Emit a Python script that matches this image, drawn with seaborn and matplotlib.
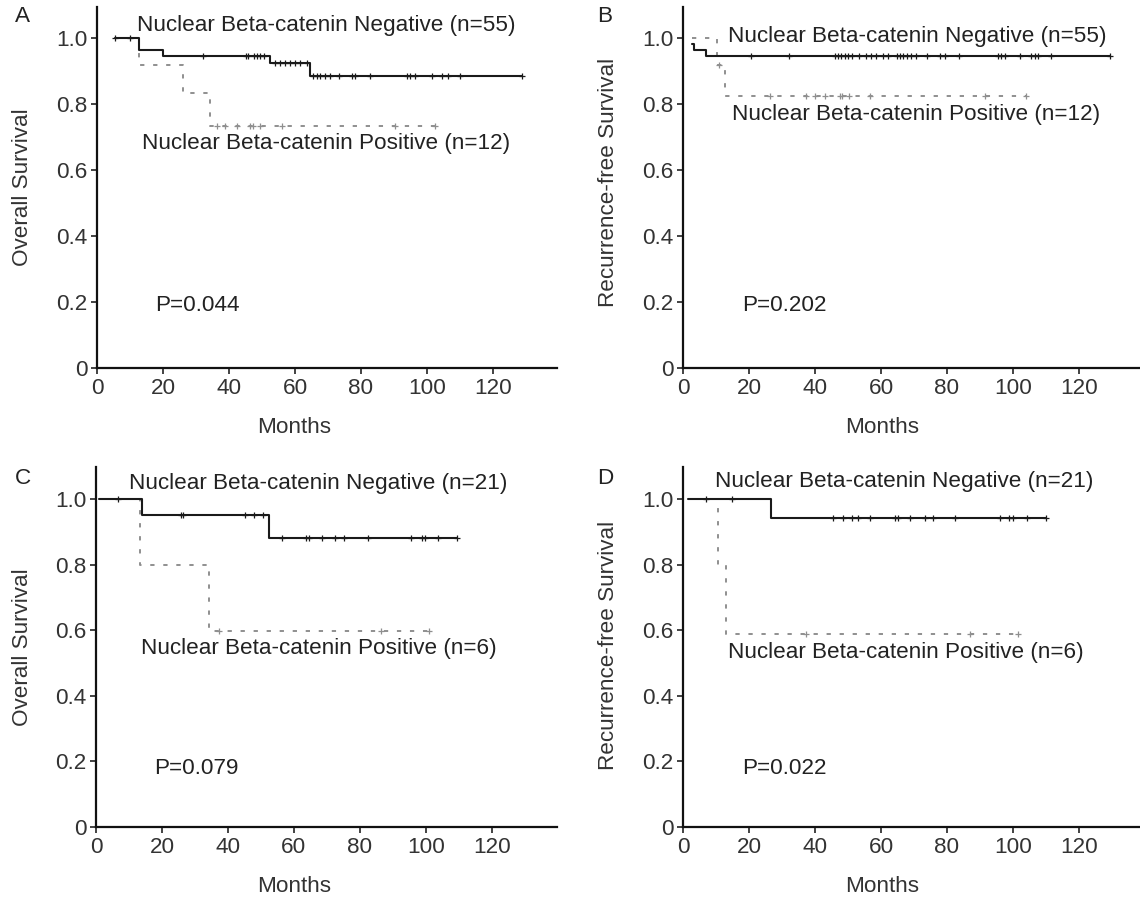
import numpy as np
import matplotlib
matplotlib.use("Agg")
import matplotlib.pyplot as plt
import seaborn as sns

# ---------------- data ----------------
# Panel A: overall survival, cohort 1
a_neg_times = [5.5, 12.8, 20.0, 52.5, 64.4, 128.8]
a_neg_surv = [1.0, 0.964, 0.945, 0.923, 0.885, 0.885]
a_neg_censor = [5.5, 10.1, 32.1, 45.0, 45.9, 47.5, 48.5, 49.5, 50.5, 54.0, 55.5, 57.0,
                58.6, 60.1, 61.6, 63.6, 65.6, 66.7, 67.7, 69.2, 70.7, 73.2, 77.3, 78.3,
                82.8, 93.9, 94.9, 96.5, 101.5, 104.5, 106.5, 110.0, 128.8]
a_pos_times = [5.5, 12.8, 26.0, 34.3, 102.5]
a_pos_surv = [1.0, 0.917, 0.833, 0.733, 0.733]
a_pos_censor = [36.4, 38.9, 42.4, 46.4, 47.3, 49.5, 56.1, 90.4, 102.5]

# Panel B: recurrence-free survival, cohort 1
b_neg_times = [2.8, 3.2, 7.1, 129.3]
b_neg_surv = [0.982, 0.964, 0.945, 0.945]
b_neg_censor = [20.7, 32.1, 46.0, 47.0, 48.0, 49.0, 50.0, 51.3, 53.3, 55.6, 57.1, 58.6,
                60.6, 62.1, 64.7, 65.7, 66.7, 67.9, 69.2, 70.7, 73.8, 77.8, 79.3, 83.6,
                95.5, 96.5, 97.5, 102.0, 105.6, 106.6, 107.6, 111.6, 129.3]
b_pos_times = [2.8, 10.4, 12.6, 103.9]
b_pos_surv = [1.0, 0.917, 0.825, 0.825]
b_pos_censor = [11.0, 26.3, 37.4, 39.9, 42.9, 47.5, 48.3, 50.3, 56.6, 91.4, 103.9]

# Panel C: overall survival, cohort 2
c_neg_times = [1.0, 13.9, 52.5, 109.3]
c_neg_surv = [1.0, 0.952, 0.881, 0.881]
c_neg_censor = [6.8, 25.8, 26.5, 45.2, 48.0, 50.7, 56.4, 63.6, 64.4, 68.4, 72.5, 75.2,
                82.3, 95.5, 98.7, 99.8, 103.5, 109.3]
c_pos_times = [1.0, 13.3, 34.3, 101.0]
c_pos_surv = [1.0, 0.8, 0.597, 0.597]
c_pos_censor = [37.4, 86.4, 101.0]

# Panel D: recurrence-free survival, cohort 2
d_neg_times = [1.5, 26.8, 109.9]
d_neg_surv = [1.0, 0.944, 0.944]
d_neg_censor = [7.1, 14.7, 45.5, 48.5, 51.3, 53.0, 56.8, 64.2, 65.0, 68.9, 73.2, 75.9,
                82.5, 96.0, 98.8, 100.0, 104.1, 109.9]
d_pos_times = [1.5, 10.6, 12.9, 101.5]
d_pos_surv = [1.0, 0.8, 0.59, 0.59]
d_pos_censor = [37.4, 86.9, 101.5]

panel_letters = ["A", "B", "C", "D"]
y_labels = ["Overall Survival", "Recurrence-free Survival",
            "Overall Survival", "Recurrence-free Survival"]
neg_labels = ["Nuclear Beta-catenin Negative (n=55)", "Nuclear Beta-catenin Negative (n=55)",
              "Nuclear Beta-catenin Negative (n=21)", "Nuclear Beta-catenin Negative (n=21)"]
pos_labels = ["Nuclear Beta-catenin Positive (n=12)", "Nuclear Beta-catenin Positive (n=12)",
              "Nuclear Beta-catenin Positive (n=6)", "Nuclear Beta-catenin Positive (n=6)"]
p_values = ["P=0.044", "P=0.202", "P=0.079", "P=0.022"]
x_ticks = [0, 20, 40, 60, 80, 100, 120]
y_ticks = [0, 0.2, 0.4, 0.6, 0.8, 1.0]
y_tick_labels = ["0", "0.2", "0.4", "0.6", "0.8", "1.0"]
x_label = "Months"

# ---------------- style ----------------
sns.set_theme(style="ticks")
plt.rcParams["font.family"] = ["Liberation Sans", "DejaVu Sans"]
TXT = "#222222"
FS = 16.2

W, H = 1140, 900
fig = plt.figure(figsize=(W / 100, H / 100), dpi=100)
fig.patch.set_facecolor("white")

# axes boxes in pixels: left, right, top, bottom ; ylim top
boxes = [(97, 557, 7, 368, 1.094), (683, 1140, 7, 368, 1.094),
         (96, 557, 467, 827, 1.099), (683, 1140, 467, 827, 1.099)]

data = [
    (a_neg_times, a_neg_surv, a_neg_censor, a_pos_times, a_pos_surv, a_pos_censor),
    (b_neg_times, b_neg_surv, b_neg_censor, b_pos_times, b_pos_surv, b_pos_censor),
    (c_neg_times, c_neg_surv, c_neg_censor, c_pos_times, c_pos_surv, c_pos_censor),
    (d_neg_times, d_neg_surv, d_neg_censor, d_pos_times, d_pos_surv, d_pos_censor),
]

# text anchors (data coords): neg label, pos label, p value
text_pos = [
    ((12.0, 1.039), (13.6, 0.681), (17.7, 0.19)),
    ((13.6, 1.004), (14.7, 0.767), (17.8, 0.19)),
    ((10.1, 1.049), (13.7, 0.546), (17.7, 0.18)),
    ((9.6, 1.054), (13.5, 0.534), (17.8, 0.18)),
]
letter_px = [(22, 17), (605, 16), (23, 478), (605, 478)]
ylabel_px = [(23, 187), (609, 182), (23, 647), (609, 645)]
xlabel_px = [(294, 428), (882, 428), (294, 887), (882, 887)]


def step_value(times, surv, t):
    idx = np.searchsorted(np.asarray(times), np.asarray(t), side="right") - 1
    idx = np.clip(idx, 0, len(surv) - 1)
    return np.asarray(surv)[idx]


def draw_curve(ax, times, surv, censor, color, ls, lw, z, ms):
    sns.lineplot(x=times, y=surv, ax=ax, drawstyle="steps-post", estimator=None,
                 sort=False, color=color, linestyle=ls, linewidth=lw, zorder=z)
    cy = step_value(times, surv, censor)
    sns.scatterplot(x=censor, y=cy, ax=ax, marker="+", s=ms, color=color,
                    linewidth=0.9, zorder=z + 0.5)


for i, (l, r, t, b, ytop) in enumerate(boxes):
    ax = fig.add_axes([l / W, 1 - b / H, (r - l) / W, (b - t) / H])
    ax.set_facecolor("white")
    nt, ns, nc, pt, ps, pc = data[i]
    draw_curve(ax, pt, ps, pc, "#8f8f8f", (0, (2.2, 4.5)), 1.4, 2, 16)
    draw_curve(ax, nt, ns, nc, "#1a1a1a", "-", 1.5, 3, 16)

    xpx_per_month = 3.3
    ax.set_xlim(0, (r - l) / xpx_per_month)
    ax.set_ylim(0, ytop)
    ax.set_xticks(x_ticks)
    ax.set_xticklabels([str(v) for v in x_ticks])
    ax.set_yticks(y_ticks)
    ax.set_yticklabels(y_tick_labels)
    ax.tick_params(axis="both", direction="out", length=4, width=1.2, colors="#222222",
                   labelsize=FS, labelcolor="#333333", pad=3)
    for s in ["top", "right"]:
        ax.spines[s].set_visible(False)
    for s in ["left", "bottom"]:
        ax.spines[s].set_color("#111111")
        ax.spines[s].set_linewidth(1.6)
    ax.set_xlabel("")
    ax.set_ylabel("")

    (nx, ny), (px, py), (qx, qy) = text_pos[i]
    ax.text(nx, ny, neg_labels[i], fontsize=FS, color=TXT, ha="left", va="center")
    ax.text(px, py, pos_labels[i], fontsize=FS, color=TXT, ha="left", va="center")
    ax.text(qx, qy, p_values[i], fontsize=FS, color=TXT, ha="left", va="center")

    lx, ly = letter_px[i]
    fig.text(lx / W, 1 - ly / H, panel_letters[i], fontsize=FS, color=TXT,
             ha="center", va="center")
    yx, yy = ylabel_px[i]
    fig.text(yx / W, 1 - yy / H, y_labels[i], fontsize=FS, color="#333333",
             ha="center", va="center", rotation=90)
    xx, xy = xlabel_px[i]
    fig.text(xx / W, 1 - xy / H, x_label, fontsize=FS, color="#333333",
             ha="center", va="center")

fig.savefig("out.png", dpi=100, facecolor="white")
